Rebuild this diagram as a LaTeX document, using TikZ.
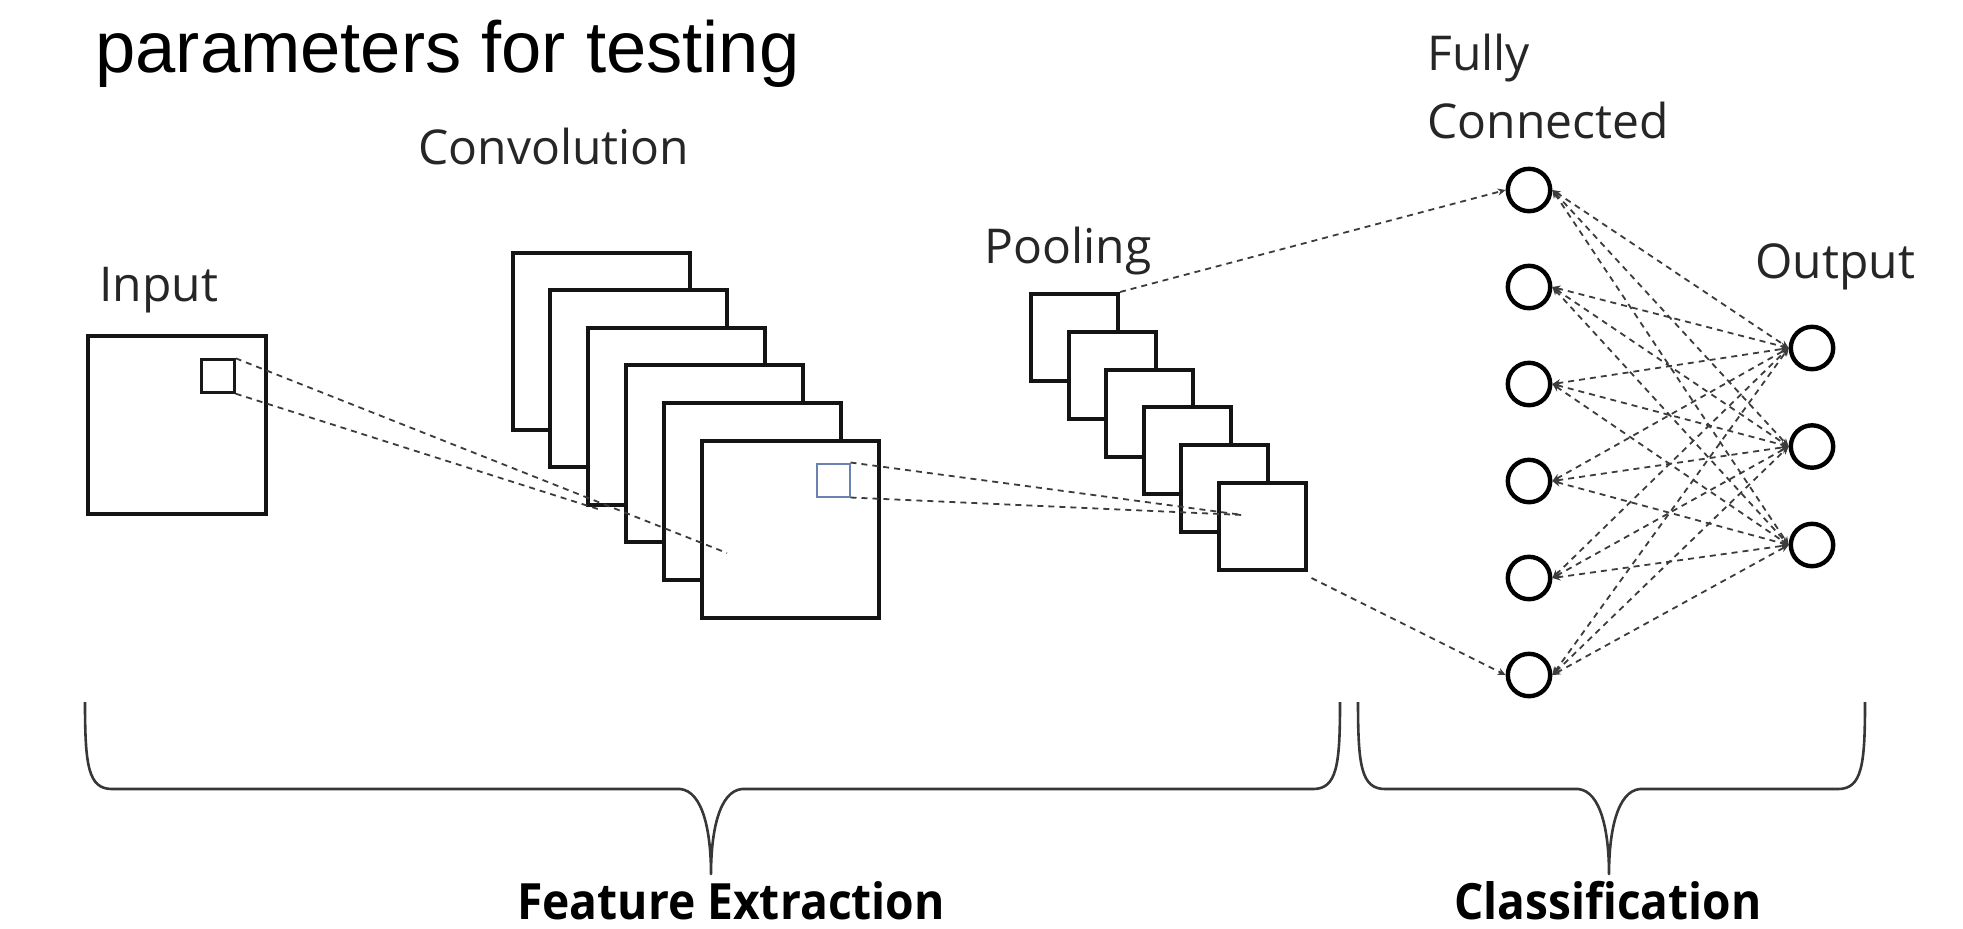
\documentclass[tikz,border=0pt]{standalone}
\usepackage{fontspec}
\setmainfont{Open Sans}
\newfontfamily\titlefont{Liberation Sans}
\usetikzlibrary{arrows.meta}
\definecolor{dashgray}{RGB}{60,60,60}
\definecolor{bracegray}{RGB}{55,55,55}
\definecolor{kernelblue}{RGB}{105,130,175}
\tikzset{
  lbl/.style={inner sep=0pt, font=\fontsize{24pt}{29pt}\selectfont, text=black!85},
  grp/.style={inner sep=0pt, font=\bfseries\fontsize{25pt}{30pt}\selectfont},
  bigmap/.style={draw=black!92, line width=2pt, fill=white, minimum size=88.5pt, inner sep=0pt},
  smallmap/.style={draw=black!92, line width=2pt, fill=white, minimum size=43.5pt, inner sep=0pt},
  kernel/.style={draw=black!90, line width=1.2pt, minimum size=16.5pt, inner sep=0pt},
  neuron/.style={circle, draw=black, line width=2.2pt, fill=white, minimum size=21.2pt, inner sep=0pt},
  link/.style={draw=dashgray, line width=0.9pt, dash pattern=on 3pt off 2.5pt},
  tip/.style={-{Stealth[length=4pt,width=3.6pt]}},
  bothtips/.style={{Stealth[length=4pt,width=3.6pt]}-{Stealth[length=4pt,width=3.6pt]}},
  brace/.style={draw=bracegray, line width=1.3pt, line join=round}
}
\begin{document}
\begin{tikzpicture}[x=0.5pt, y=-0.5pt]
\useasboundingbox (0,0) rectangle (1963,928);

% title
\node[inner sep=0pt, anchor=base west] (title) at (95,72)
  {\titlefont\fontsize{36.2pt}{43pt}\selectfont parameters for testing};

% input image with its receptive field
\node[bigmap, minimum size=89pt] (in) at (177,425) {};
\node[kernel] (inpatch) at (218,376) {};
\node[lbl, anchor=base west] (inlbl) at (99,301) {Input};

% convolution feature maps
\foreach \i in {0,...,5}
  \node[bigmap] (c\i) at ({601+37.8*\i},{341+37.6*\i}) {};
\node[kernel, draw=kernelblue, line width=1pt] (cpatch) at (833,480) {};
\node[lbl, anchor=base west] (convlbl) at (418,164) {Convolution};

% pooled maps
\foreach \i in {0,...,5}
  \node[smallmap] (p\i) at ({1074.5+37.5*\i},{337.5+37.8*\i}) {};
\node[lbl, anchor=base west] (poollbl) at (984,263) {Pooling};

% fully connected layer and output
\foreach \i in {1,...,6}
  \node[neuron] (f\i) at (1529,{190+97*(\i-1)}) {};
\foreach \j in {1,...,3}
  \node[neuron] (o\j) at (1812,{348+98.5*(\j-1)}) {};
\node[lbl, anchor=base west] (fully) at (1427,70) {Fully};
\node[lbl, anchor=base west] (conn) at (1427,138) {Connected};
\node[lbl, anchor=base west] (outlbl) at (1755,278) {Output};

% projections between stages
\coordinate (cend1) at (727,553);
\coordinate (cend2) at (601,510);
\coordinate (pend) at (1243,515);
\draw[link] (inpatch.north east) -- (cend1);
\draw[link] (inpatch.south east) -- (cend2);
\draw[link] (cpatch.north east) -- (pend);
\draw[link] (cpatch.south east) -- (pend);
\draw[link, tip] (p0.north east) -- (f1.west);
\draw[link, tip] ([xshift=2pt,yshift=-3pt]p5.south east) -- (f6.west);

% dense connections
\foreach \i in {1,...,6}
  \foreach \j in {1,...,3}
    \draw[link, bothtips] (f\i.east) -- (o\j.west);

% braces
\node[grp, anchor=base] (fe) at (731,919) {\resizebox{214pt}{\height}{Feature Extraction}};
\node[grp, anchor=base] (cl) at (1608,919) {\resizebox{153.5pt}{\height}{Classification}};
\draw[brace] (85,702) .. controls (85,765) and (88,789) .. (112,789)
  -- (680,789) .. controls (703,791) and (711,832) .. (711,874)
  .. controls (711,832) and (719,791) .. (742,789)
  -- (1313,789) .. controls (1337,789) and (1340,765) .. (1340,702);
\draw[brace] (1358,702) .. controls (1358,765) and (1361,789) .. (1385,789)
  -- (1578,789) .. controls (1601,791) and (1609,832) .. (1609,874)
  .. controls (1609,832) and (1617,791) .. (1640,789)
  -- (1838,789) .. controls (1862,789) and (1865,765) .. (1865,702);
\end{tikzpicture}
\end{document}
